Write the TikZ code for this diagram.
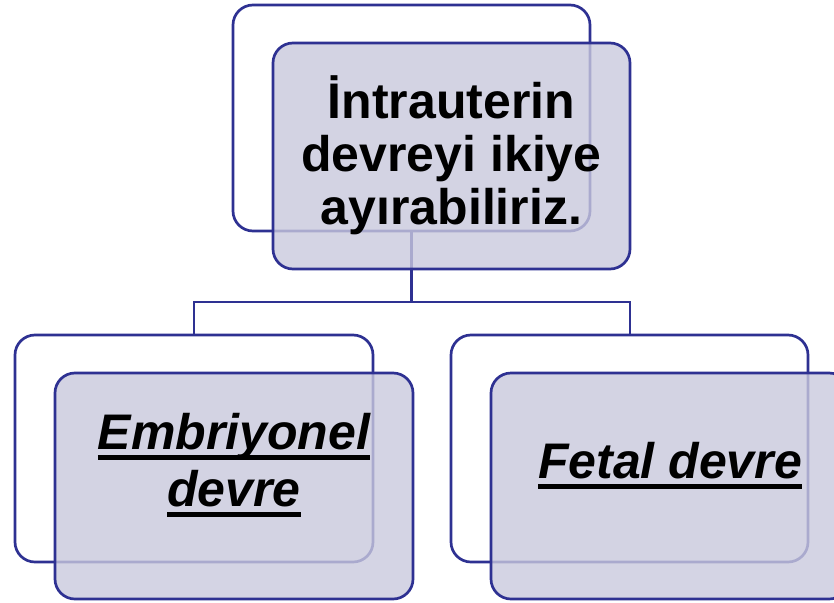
\documentclass[tikz,border=0pt]{standalone}
\usepackage{fontspec}
\setmainfont{Liberation Sans}
\definecolor{boxline}{RGB}{46,49,146}
\definecolor{boxfill}{RGB}{201,201,221}
\newcommand\myul[1]{\setbox0\hbox{#1}\rlap{\rule[-11pt]{\wd0}{5pt}}\box0}
\tikzset{
  backbox/.style={draw=boxline, line width=2.7pt, fill=white, rounded corners=20pt},
  frontbox/.style={draw=boxline, line width=2.7pt, fill=boxfill, fill opacity=0.8, draw opacity=1, rounded corners=20pt},
  conn/.style={draw=boxline, line width=2.7pt},
  toptext/.style={font=\fontsize{50}{53}\selectfont\bfseries, anchor=base, inner sep=0pt},
  subtext/.style={font=\fontsize{50}{57}\selectfont\bfseries\itshape, anchor=base, inner sep=0pt}
}
\begin{document}
\begin{tikzpicture}[x=1pt,y=-1pt]
\useasboundingbox (0,0) rectangle (834,602);
\clip (0,0) rectangle (834,602);
% back boxes
\draw[backbox] (233,5) rectangle (590,231);
\draw[backbox] (15,335) rectangle (373,562);
\draw[backbox] (451,335) rectangle (808,562);
\coordinate (tbs) at (411.5,231);
\coordinate (lbn) at (194,335);
\coordinate (rbn) at (630,335);
\coordinate (mid) at (411.5,302);
% connectors
\draw[conn] (tbs) -- (mid);
\draw[conn] (lbn) |- (mid) -| (rbn);
% front boxes
\draw[frontbox] (273,43) rectangle (630,269);
\draw[frontbox] (55,373) rectangle (413,599);
\draw[frontbox] (491,373) rectangle (849,599);
% texts
\node[toptext] (t1) at (451.5,118) {İntrauterin};
\node[toptext] (t2) at (451.5,171) {devreyi ikiye};
\node[toptext] (t3) at (451.5,224) {ayırabiliriz.};
\node[subtext] (e1) at (234,449) {\myul{Embriyonel}};
\node[subtext] (e2) at (234,506) {\myul{devre}};
\node[subtext] (f1) at (670,478) {\myul{Fetal devre}};
\end{tikzpicture}
\end{document}
